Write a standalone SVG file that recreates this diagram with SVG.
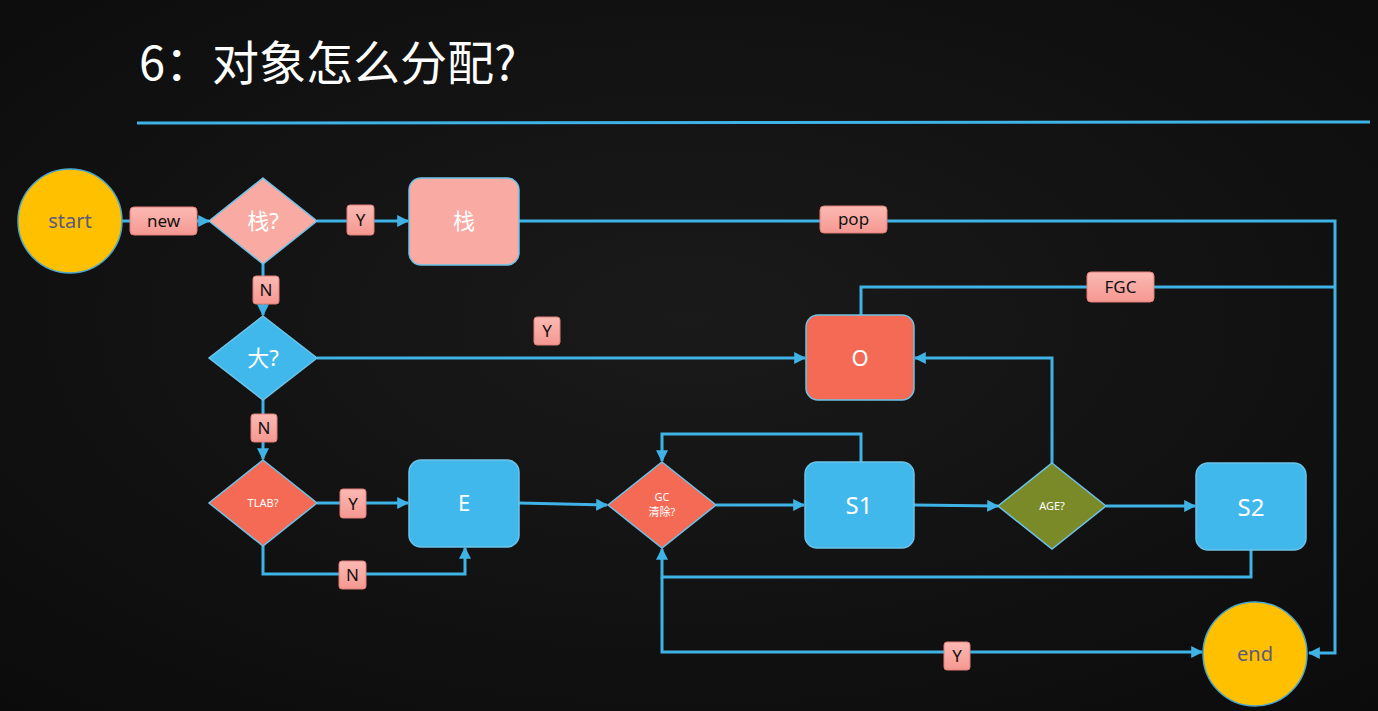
<svg xmlns="http://www.w3.org/2000/svg" width="1378" height="711" viewBox="0 0 1378 711">
<defs>
<radialGradient id="bg" cx="50%" cy="45%" r="75%">
<stop offset="0" stop-color="#1a1a1a"/>
<stop offset="1" stop-color="#0b0b0b"/>
</radialGradient>
<linearGradient id="lbl" x1="0" y1="0" x2="0" y2="1">
<stop offset="0" stop-color="#fcb9b3"/>
<stop offset="1" stop-color="#f59891"/>
</linearGradient>
<marker id="ar" viewBox="0 0 10 10" refX="9" refY="5" markerWidth="4" markerHeight="4" orient="auto" markerUnits="strokeWidth">
<path d="M0,0 L10,5 L0,10 z" fill="#3fb3e6"/>
</marker>
</defs>
<style>
.ln{fill:none;stroke:#3fb3e6;stroke-width:3}
.lbl rect{fill:url(#lbl);stroke:#e07f78;stroke-width:1}
.lbl text{font-family:"Noto Sans","Liberation Sans",sans-serif;font-size:17px;fill:#111;text-anchor:middle}
.box{stroke:#6cc3e8;stroke-width:1.5}
.blue{fill:#41b8ec}
.red{fill:#f46a55}
.pink{fill:#f8aaa3}
.olive{fill:#7a8a28}
.yel{fill:#ffc000}
.wt{font-family:"Noto Sans","Noto Sans CJK SC",sans-serif;fill:#fff;text-anchor:middle}
.gt{font-family:"Noto Sans",sans-serif;fill:#5c5a7c;text-anchor:middle;font-size:20px}
</style>
<rect width="1378" height="711" fill="url(#bg)"/>
<g id="title">
<text x="139" y="80" font-family="Noto Sans CJK SC, Noto Sans, sans-serif" font-size="47" fill="#fff">6：对象怎么分配?</text>
<path d="M137,123 L1370,122" stroke="#3fb3e6" stroke-width="3" fill="none"/>
</g>
<g id="connectors">
<path class="ln" d="M121,221 L209,221" marker-end="url(#ar)"/>
<path class="ln" d="M317,221 L408,221" marker-end="url(#ar)"/>
<path class="ln" d="M519,221 L1335,221 L1335,653 L1309,653" marker-end="url(#ar)"/>
<path class="ln" d="M861,315 L861,287 L1335,287"/>
<path class="ln" d="M263,264 L263,315" marker-end="url(#ar)"/>
<path class="ln" d="M317,358 L805,358" marker-end="url(#ar)"/>
<path class="ln" d="M263,400 L263,459" marker-end="url(#ar)"/>
<path class="ln" d="M317,503 L408,503" marker-end="url(#ar)"/>
<path class="ln" d="M263,546 L263,574 L465,574 L465,548" marker-end="url(#ar)"/>
<path class="ln" d="M519,503 L607,505" marker-end="url(#ar)"/>
<path class="ln" d="M716,505 L804,505" marker-end="url(#ar)"/>
<path class="ln" d="M861,462 L861,434 L662,434 L662,461" marker-end="url(#ar)"/>
<path class="ln" d="M914,505 L998,506" marker-end="url(#ar)"/>
<path class="ln" d="M1052,463 L1052,358 L915,358" marker-end="url(#ar)"/>
<path class="ln" d="M1106,506 L1195,506" marker-end="url(#ar)"/>
<path class="ln" d="M1251,550 L1251,577 L662,577 L662,549" marker-end="url(#ar)"/>
<path class="ln" d="M662,577 L662,652 L1202,652" marker-end="url(#ar)"/>
<g class="lbl"><rect x="130" y="207" width="67" height="28" rx="4"/><text x="163.5" y="227">new</text></g>
<g class="lbl"><rect x="347" y="205" width="27" height="30" rx="3"/><text x="360.5" y="226">Y</text></g>
<g class="lbl"><rect x="820" y="206" width="67" height="27" rx="4"/><text x="853.5" y="225">pop</text></g>
<g class="lbl"><rect x="1087" y="272" width="67" height="30" rx="4"/><text x="1120.5" y="293">FGC</text></g>
<g class="lbl"><rect x="253" y="276" width="26" height="28" rx="3"/><text x="266" y="296">N</text></g>
<g class="lbl"><rect x="534" y="317" width="26" height="28" rx="3"/><text x="547" y="337">Y</text></g>
<g class="lbl"><rect x="251" y="414" width="26" height="28" rx="3"/><text x="264" y="434">N</text></g>
<g class="lbl"><rect x="340" y="489" width="26" height="29" rx="3"/><text x="353" y="510">Y</text></g>
<g class="lbl"><rect x="339" y="561" width="27" height="28" rx="3"/><text x="352.5" y="581">N</text></g>
<g class="lbl"><rect x="944" y="642" width="26" height="28" rx="3"/><text x="957" y="662">Y</text></g>
</g>
<g id="start"><circle cx="70" cy="221" r="52" class="yel" stroke="#4aa8d0" stroke-width="1.5"/><text x="70" y="228" class="gt">start</text></g>
<g id="stack-q"><polygon points="263,178 317,221 263,264 209,221" class="pink box"/><text x="263" y="229" class="wt" font-size="22">栈?</text></g>
<g id="stack"><rect x="409" y="178" width="110" height="87" rx="12" class="pink box"/><text x="464" y="229" class="wt" font-size="22">栈</text></g>
<g id="big-q"><polygon points="263,316 317,358 263,400 209,358" class="blue box"/><text x="263" y="366" class="wt" font-size="22">大?</text></g>
<g id="old"><rect x="806" y="315" width="108" height="85" rx="12" class="red box"/><text x="860" y="366" class="wt" font-size="22">O</text></g>
<g id="tlab-q"><polygon points="263,460 317,503 263,546 209,503" class="red box"/><text x="263" y="507" class="wt" font-size="11">TLAB?</text></g>
<g id="eden"><rect x="409" y="460" width="110" height="87" rx="12" class="blue box"/><text x="464" y="511" class="wt" font-size="22">E</text></g>
<g id="gc-q"><polygon points="662,462 716,505 662,548 608,505" class="red box"/><text x="662" y="501" class="wt" font-size="11">GC</text><text x="662" y="516" class="wt" font-size="11">清除?</text></g>
<g id="s1"><rect x="805" y="462" width="109" height="86" rx="12" class="blue box"/><text x="859" y="514" class="wt" font-size="24">S1</text></g>
<g id="age-q"><polygon points="1052,463 1106,506 1052,549 998,506" class="olive box"/><text x="1052" y="510" class="wt" font-size="11" fill="#f4f0c0">AGE?</text></g>
<g id="s2"><rect x="1196" y="463" width="110" height="87" rx="12" class="blue box"/><text x="1251" y="516" class="wt" font-size="24">S2</text></g>
<g id="end"><circle cx="1255" cy="654" r="52" class="yel" stroke="#4aa8d0" stroke-width="1.5"/><text x="1255" y="661" class="gt">end</text></g>
</svg>
